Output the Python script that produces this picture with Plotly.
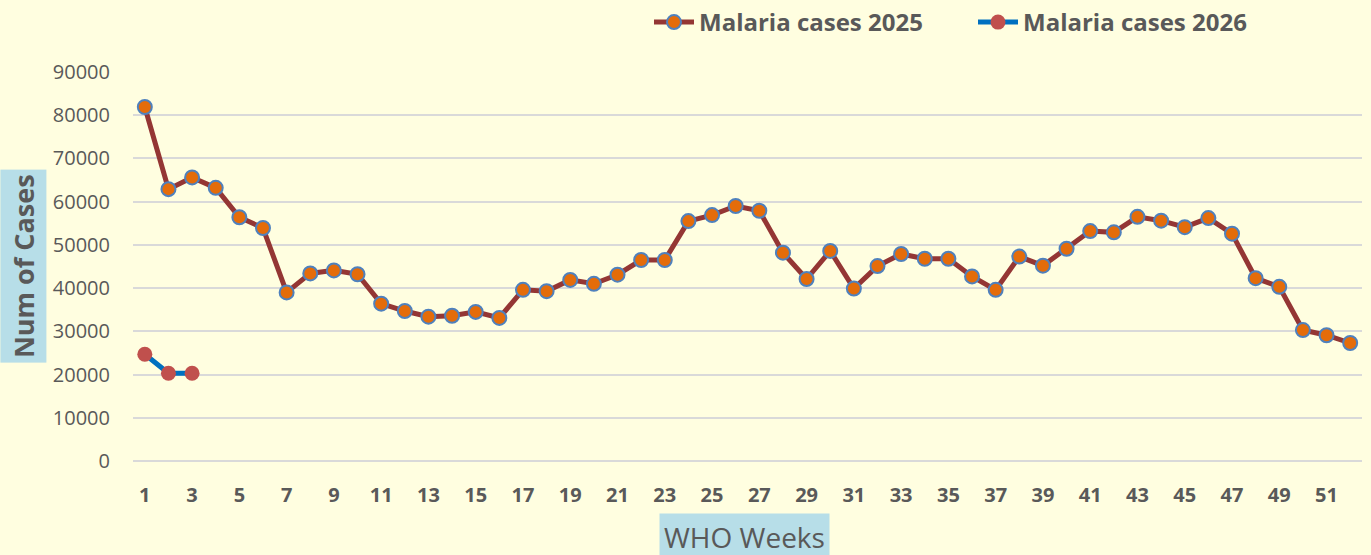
import plotly.graph_objects as go

weeks_2025 = list(range(1, 53))
cases_2025 = [81900, 62900, 65600, 63200, 56400, 53900, 39000, 43400, 44100, 43200,
              36400, 34700, 33400, 33600, 34500, 33100, 39600, 39300, 41900, 41000,
              43100, 46500, 46500, 55500, 56900, 59000, 57900, 48200, 42100, 48600,
              39900, 45100, 47900, 46800, 46800, 42700, 39600, 47300, 45200, 49100,
              53200, 52900, 56500, 55600, 54100, 56200, 52600, 42300, 40300, 30300,
              29100, 27300]
weeks_2026 = [1, 2, 3]
cases_2026 = [24700, 20300, 20300]
x_tick_vals = list(range(1, 53, 2))
y_tick_vals = list(range(0, 90001, 10000))

BG = "#FFFEE0"
GREY = "#595959"
FONT = "Open Sans"

fig = go.Figure()
fig.add_trace(go.Scatter(
    x=weeks_2025, y=cases_2025, mode="lines+markers", name="Malaria cases 2025",
    line=dict(color="#943634", width=5),
    marker=dict(size=14, color="#E46C0A", line=dict(color="#4F81BD", width=2)),
))
fig.add_trace(go.Scatter(
    x=weeks_2026, y=cases_2026, mode="lines+markers", name="Malaria cases 2026",
    line=dict(color="#0070C0", width=5),
    marker=dict(size=15, color="#C0504D", line=dict(color="#C0504D", width=0)),
))

fig.update_layout(
    width=1371, height=555,
    paper_bgcolor=BG, plot_bgcolor=BG,
    margin=dict(l=133, r=9, t=72, b=94),
    font=dict(family=FONT, color=GREY, size=18),
    showlegend=True,
    legend=dict(
        orientation="h", x=(649 - 133) / 1229, xref="paper", xanchor="left",
        y=1.0, yanchor="top", yref="container",
        font=dict(family=FONT, size=24, color=GREY, weight="bold"),
        itemwidth=40, bgcolor="rgba(0,0,0,0)", traceorder="normal",
        entrywidth=269,
    ),
    xaxis=dict(
        range=[0.5, 52.5], tickvals=x_tick_vals, ticktext=[str(v) for v in x_tick_vals],
        showgrid=False, zeroline=False, showline=False,
        tickfont=dict(family=FONT, size=20, color=GREY, weight="bold"),
        ticks="", ticklabelstandoff=20,
    ),
    yaxis=dict(
        range=[0, 90000], tickvals=y_tick_vals, ticktext=[str(v) for v in y_tick_vals],
        showgrid=True, gridcolor="#D9D9D9", gridwidth=1.5,
        zeroline=True, zerolinecolor="#D9D9D9", zerolinewidth=1.5,
        tickfont=dict(family=FONT, size=20, color=GREY),
        ticks="", ticklabelstandoff=22,
    ),
    annotations=[
        dict(text="<b>Num of Cases</b>", textangle=-90, xref="paper", yref="paper",
             x=-0.0895, y=0.501, xanchor="center", yanchor="middle", showarrow=False,
             font=dict(family=FONT, size=27, color=GREY), bgcolor="#B7DEE8",
             borderpad=4),
        dict(text="WHO Weeks", xref="paper", yref="paper", x=0.4975, y=-0.195,
             xanchor="center", yanchor="middle", showarrow=False,
             font=dict(family=FONT, size=28, color=GREY), bgcolor="#B7DEE8",
             borderpad=4),
    ],
)

fig.write_html(
    "out.html",
    config={"displayModeBar": False},
    post_script="document.body.style.margin='0';document.body.style.background='#FFFEE0';",
)
